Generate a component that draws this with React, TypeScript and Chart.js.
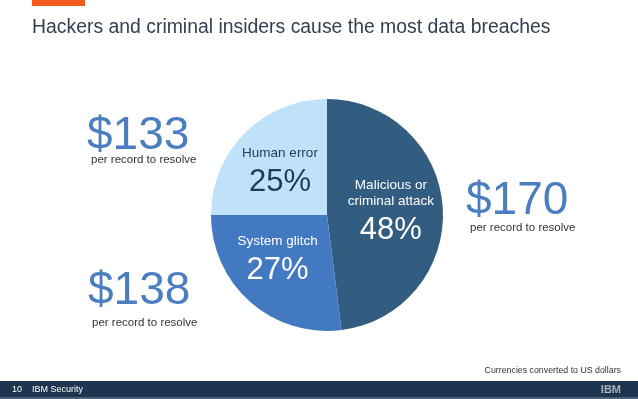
import React, { useEffect, useRef } from "react";
import { Chart, registerables } from "chart.js";

Chart.register(...registerables);

const categories = ["Malicious or criminal attack", "System glitch", "Human error"];
const labelLines = [["Malicious or", "criminal attack"], ["System glitch"], ["Human error"]];
const shares = [48, 27, 25];
const costs = ["$170", "$138", "$133"];
const costNote = "per record to resolve";
const titleText = "Hackers and criminal insiders cause the most data breaches";
const footNote = "Currencies converted to US dollars";
const pageNo = "10";
const footerText = "IBM Security";

const sliceColors = ["#335c81", "#4279c1", "#bfe2fa"];
const labelColors = ["#ffffff", "#ffffff", "#1f3a56"];
const FONT = '"Liberation Sans", Arial, sans-serif';

const decorPlugin = {
  id: "decor",
  beforeDraw(chart: any) {
    const ctx = chart.ctx;
    const W = chart.width;
    const H = chart.height;
    ctx.save();
    ctx.fillStyle = "#ffffff";
    ctx.fillRect(0, 0, W, H);
    // orange tab
    ctx.fillStyle = "#f05a1c";
    ctx.fillRect(32, 0, 53, 6);
    // title
    ctx.fillStyle = "#333f50";
    ctx.font = `19.4px ${FONT}`;
    ctx.textAlign = "left";
    ctx.textBaseline = "alphabetic";
    ctx.fillText(titleText, 32, 33);
    // footer bar
    ctx.fillStyle = "#1d3550";
    ctx.fillRect(0, 381, W, 16);
    ctx.fillStyle = "#4f6378";
    ctx.fillRect(0, 397, W, 2);
    ctx.fillStyle = "#ffffff";
    ctx.font = `9px ${FONT}`;
    ctx.textBaseline = "middle";
    ctx.fillText(pageNo, 12, 390);
    ctx.fillText(footerText, 32, 390);
    // IBM logo
    ctx.font = `bold 11px ${FONT}`;
    ctx.textAlign = "right";
    ctx.fillText("IBM", 621, 390);
    ctx.fillStyle = "#1d3550";
    for (let yy = 385.5; yy < 395; yy += 2) ctx.fillRect(594, yy, 30, 0.8);
    // footnote
    ctx.fillStyle = "#333333";
    ctx.font = `8.8px ${FONT}`;
    ctx.textAlign = "right";
    ctx.fillText(footNote, 621, 371);
    ctx.restore();
  },
  afterDraw(chart: any) {
    const ctx = chart.ctx;
    const meta = chart.getDatasetMeta(0);
    ctx.save();
    // slice labels: offset of the first text line from the slice centroid
    const offsets = [[6, -26], [-11, -17.5], [-6, -21]];
    meta.data.forEach((arc: any, i: number) => {
      const p = arc.tooltipPosition();
      const cx = p.x + offsets[i][0];
      let y = p.y + offsets[i][1];
      ctx.fillStyle = labelColors[i];
      ctx.textAlign = "center";
      ctx.textBaseline = "middle";
      ctx.font = `13.5px ${FONT}`;
      labelLines[i].forEach((l, k) => {
        if (k > 0) y += 16;
        ctx.fillText(l, cx, y);
      });
      ctx.font = `31px ${FONT}`;
      ctx.fillText(shares[i] + "%", cx, y + 29);
    });
    // cost call-outs
    const pos = [
      [466, 214, 470, 227.5],
      [88, 304, 92, 322.5],
      [87, 149, 91, 160],
    ];
    costs.forEach((c, i) => {
      const [bx, by, sx, sy] = pos[i];
      ctx.fillStyle = "#4a7ec1";
      ctx.textAlign = "left";
      ctx.textBaseline = "alphabetic";
      ctx.font = `46px ${FONT}`;
      ctx.fillText(c, bx, by);
      ctx.fillStyle = "#333333";
      ctx.font = `11.5px ${FONT}`;
      ctx.textBaseline = "middle";
      ctx.fillText(costNote, sx, sy);
    });
    ctx.restore();
  },
};

export default function App() {
  const ref = useRef<HTMLCanvasElement>(null);
  useEffect(() => {
    if (!ref.current) return;
    const chart = new Chart(ref.current, {
      type: "pie",
      data: {
        labels: categories,
        datasets: [
          {
            data: shares,
            backgroundColor: sliceColors,
            borderWidth: 0,
          },
        ],
      },
      options: {
        responsive: false,
        animation: false,
        layout: { padding: { top: 99, bottom: 68, left: 211, right: 195 } },
        plugins: {
          legend: { display: false },
          tooltip: { enabled: false },
          title: { display: false },
        },
      },
      plugins: [decorPlugin],
    });
    return () => chart.destroy();
  }, []);
  return (
    <div style={{ position: "absolute", left: 0, top: 0, width: 638, height: 399, background: "#fff" }}>
      <canvas ref={ref} width={638} height={399} style={{ display: "block" }} />
    </div>
  );
}
